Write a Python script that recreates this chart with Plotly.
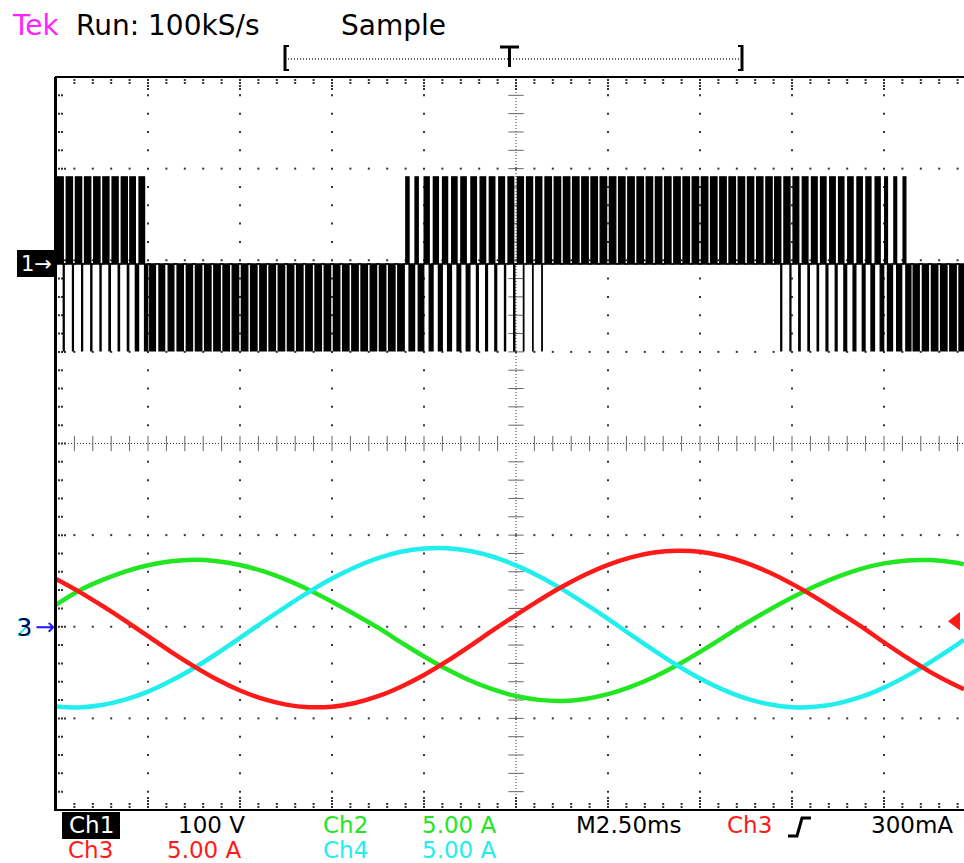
import plotly.graph_objects as go

# ---------------- data (read from the screen) ----------------
# time axis: 2.5 ms/div, screen shows 0 .. ~9.87 div
t_ms = [0.0, 0.625, 1.25, 1.875, 2.5, 3.125, 3.75, 4.375, 5.0, 5.625,
        6.25, 6.875, 7.5, 8.125, 8.75, 9.375, 10.0, 10.625, 11.25, 11.875,
        12.5, 13.125, 13.75, 14.375, 15.0, 15.625, 16.25, 16.875, 17.5, 18.125,
        18.75, 19.375, 20.0, 20.625, 21.25, 21.875, 22.5, 23.125, 23.75, 24.375,
        24.67]

# phase currents (A), 5 A/div
ch3_red_A = [2.61, 1.92, 1.15, 0.34, -0.51, -1.37, -2.16, -2.88, -3.48, -3.94,
             -4.25, -4.39, -4.36, -4.16, -3.79, -3.27, -2.63, -1.88, -1.05, -0.19,
             0.64, 1.44, 2.18, 2.84, 3.38, 3.79, 4.05, 4.15, 4.09, 3.86,
             3.49, 2.97, 2.34, 1.62, 0.83, 0.02, -0.85, -1.69, -2.46, -3.13,
             -3.41]
ch2_green_A = [1.20, 1.97, 2.54, 3.01, 3.36, 3.57, 3.65, 3.58, 3.37, 3.03,
               2.57, 2.01, 1.37, 0.67, -0.05, -0.85, -1.62, -2.32, -2.93, -3.42,
               -3.78, -3.99, -4.05, -3.94, -3.68, -3.27, -2.74, -2.10, -1.37, -0.59,
               0.19, 0.91, 1.59, 2.21, 2.74, 3.16, 3.46, 3.62, 3.64, 3.52,
               3.41]
ch4_cyan_A = [-4.35, -4.40, -4.27, -3.98, -3.54, -2.95, -2.25, -1.46, -0.61, 0.26,
              1.10, 1.90, 2.63, 3.25, 3.74, 4.09, 4.27, 4.29, 4.13, 3.82,
              3.35, 2.76, 2.05, 1.26, 0.43, -0.44, -1.29, -2.10, -2.82, -3.43,
              -3.91, -4.23, -4.39, -4.37, -4.18, -3.83, -3.32, -2.68, -1.94, -1.13,
              -0.71]

# Ch1 line voltage: levels (V), 100 V/div, PWM carrier period (ms)
ch1_levels_V = [95, 0, -95]          # high, zero, low
ch1_carrier_ms = 0.25
ch1_duty_step_ms = 0.625
# fraction of each carrier period spent at +level / -level (per 0.625 ms slot)
ch1_up_duty = [0.68, 0.68, 0.66, 0.6, 0.0, 0.0, 0.0, 0.0, 0.0, 0.0,
               0.0, 0.0, 0.0, 0.0, 0.0, 0.35, 0.55, 0.58, 0.6, 0.62,
               0.66, 0.7, 0.7, 0.7, 0.7, 0.7, 0.7, 0.7, 0.7, 0.7,
               0.68, 0.66, 0.62, 0.6, 0.58, 0.55, 0.3, 0.0, 0.0, 0.0]
ch1_lo_duty = [0.1, 0.12, 0.15, 0.35, 0.62, 0.68, 0.7, 0.7, 0.7, 0.7,
               0.7, 0.7, 0.7, 0.7, 0.7, 0.6, 0.42, 0.4, 0.2, 0.12,
               0.05, 0.0, 0.0, 0.0, 0.0, 0.0, 0.0, 0.0, 0.0, 0.0,
               0.0, 0.1, 0.15, 0.2, 0.3, 0.38, 0.55, 0.66, 0.7, 0.7]

# channel settings
ch1_offset_div = 1.96
ch1_V_per_div = 100.0
cur_offset_div = -2.0
cur_A_per_div = 5.0
trig_level_A = 0.3

# ---------------- geometry ----------------
W, H = 964, 863
ML, MR, MT, MB = 56, 0, 77, 53
PW = W - ML - MR
PH = H - MT - MB
MS_PER_DIV = 2.5
DIV_PX_X = 92.0
X_MAX = PW / DIV_PX_X * MS_PER_DIV
DX = MS_PER_DIV / DIV_PX_X      # ms per pixel
DY = 8.0 / PH                    # div per pixel


def PX(px):
    return (px - ML) / PW


def PY(py):
    return (H - MB - py) / PH


FONT = "DejaVu Sans"
RED = "#ff1a1a"
GREEN = "#22e622"
CYAN = "#22eeee"
MAG = "#ff22ff"

fig = go.Figure()

# ---------------- graticule ----------------
gx, gy = [], []
for j in [-3, -2, -1, 1, 2, 3]:
    for i in range(1, 50):
        gx.append(i * 0.5)
        gy.append(j)
for i in [1, 2, 3, 4, 6, 7, 8, 9]:
    for j in range(-19, 20):
        if j % 5:
            gx.append(i * 2.5)
            gy.append(j * 0.2)
# border ticks
for i in range(1, 50):
    n = 4 if i % 5 == 0 else 2
    for k in range(1, n + 1):
        gx += [i * 0.5, i * 0.5]
        gy += [4 - 3 * k * DY, -4 + 3 * k * DY]
for j in range(-19, 20):
    n = 3 if j % 5 == 0 else 2
    for k in range(1, n + 1):
        gx.append(3 * k * DX)
        gy.append(j * 0.2)
fig.add_trace(go.Scatter(x=gx, y=gy, mode="markers",
                         marker=dict(symbol="square", size=2, color="#333333"),
                         hoverinfo="skip", showlegend=False, cliponaxis=False))

# center-line ticks
tx = [i * 0.5 for i in range(1, 50) if i != 25]
fig.add_trace(go.Scatter(x=tx, y=[0] * len(tx), mode="markers",
                         marker=dict(symbol="line-ns-open", size=11, color="#666666",
                                     line=dict(width=1, color="#666666")),
                         hoverinfo="skip", showlegend=False))
ty = [j * 0.2 for j in range(-19, 20) if j != 0]
fig.add_trace(go.Scatter(x=[12.5] * len(ty), y=ty, mode="markers",
                         marker=dict(symbol="line-ew-open", size=11, color="#666666",
                                     line=dict(width=1, color="#666666")),
                         hoverinfo="skip", showlegend=False))

shapes = []
shapes.append(dict(type="line", xref="x", yref="y", x0=12.5, x1=12.5, y0=-4, y1=4,
                   line=dict(color="#333333", width=1, dash="1px,2px"), layer="below"))
shapes.append(dict(type="line", xref="x", yref="y", x0=0, x1=X_MAX, y0=0, y1=0,
                   line=dict(color="#333333", width=1, dash="1px,2px"), layer="below"))
# borders
shapes.append(dict(type="line", xref="paper", yref="paper", x0=PX(55.5), x1=PX(55.5),
                   y0=PY(77), y1=PY(811), line=dict(color="black", width=3)))
shapes.append(dict(type="line", xref="paper", yref="paper", x0=PX(55), x1=1,
                   y0=PY(77), y1=PY(77), line=dict(color="black", width=2)))
shapes.append(dict(type="line", xref="paper", yref="paper", x0=PX(55), x1=1,
                   y0=PY(810), y1=PY(810), line=dict(color="black", width=2)))

# ---------------- Ch1 PWM voltage ----------------
hi = ch1_offset_div + ch1_levels_V[0] / ch1_V_per_div
mid = ch1_offset_div + ch1_levels_V[1] / ch1_V_per_div
lo = ch1_offset_div + ch1_levels_V[2] / ch1_V_per_div
vx, vy = [], []
k = 0
while k * ch1_carrier_ms < X_MAX:
    x0 = k * ch1_carrier_ms
    idx = min(int(x0 / ch1_duty_step_ms), len(ch1_up_duty) - 1)
    wu, wl = ch1_up_duty[idx], ch1_lo_duty[idx]
    T = ch1_carrier_ms
    s = x0 + (1 - wu - wl) / 2 * T
    vx += [x0, s]
    vy += [mid, mid]
    if wu > 0:
        vx += [s, s + wu * T]
        vy += [hi, hi]
    s2 = s + wu * T
    if wl > 0:
        vx += [s2, s2 + wl * T]
        vy += [lo, lo]
    vx.append(s2 + wl * T)
    vy.append(mid)
    k += 1
fig.add_trace(go.Scatter(x=[0, X_MAX + 1], y=[mid, mid], mode="lines",
                         line=dict(color="black", width=1.5),
                         hoverinfo="skip", showlegend=False))
fig.add_trace(go.Scatter(x=vx, y=vy, mode="lines", fill="tonexty",
                         fillcolor="black", line=dict(color="black", width=1.3),
                         hoverinfo="skip", showlegend=False))

# ---------------- currents ----------------
for vals, col in [(ch2_green_A, GREEN), (ch4_cyan_A, CYAN), (ch3_red_A, RED)]:
    fig.add_trace(go.Scatter(x=t_ms, y=[cur_offset_div + v / cur_A_per_div for v in vals],
                             mode="lines", line=dict(color=col, width=4.5, shape="spline"),
                             hoverinfo="skip", showlegend=False))

# trigger level marker
fig.add_trace(go.Scatter(x=[(956 - ML) * DX], y=[cur_offset_div + trig_level_A / cur_A_per_div],
                         mode="markers", marker=dict(symbol="triangle-left", size=16, color=RED),
                         hoverinfo="skip", showlegend=False, cliponaxis=False))

# ---------------- header: trigger position bar ----------------
hdr = dict(type="line", xref="paper", yref="paper")
shapes.append(dict(hdr, x0=PX(288), x1=PX(740), y0=PY(59), y1=PY(59),
                   line=dict(color="#333333", width=1.5, dash="1px,2px")))
for xb, d in [(285, 1), (742, -1)]:
    shapes.append(dict(hdr, x0=PX(xb), x1=PX(xb), y0=PY(45), y1=PY(71),
                       line=dict(color="black", width=3)))
    shapes.append(dict(hdr, x0=PX(xb), x1=PX(xb + 4 * d), y0=PY(46), y1=PY(46),
                       line=dict(color="black", width=2)))
    shapes.append(dict(hdr, x0=PX(xb), x1=PX(xb + 4 * d), y0=PY(70), y1=PY(70),
                       line=dict(color="black", width=2)))
shapes.append(dict(hdr, x0=PX(500), x1=PX(519), y0=PY(47), y1=PY(47),
                   line=dict(color="black", width=3)))
shapes.append(dict(hdr, x0=PX(509.5), x1=PX(509.5), y0=PY(47), y1=PY(67),
                   line=dict(color="black", width=3)))

# boxes for Ch1 labels
shapes.append(dict(type="rect", xref="paper", yref="paper", x0=PX(17), x1=PX(56),
                   y0=PY(277), y1=PY(250), fillcolor="black", line=dict(width=0)))
shapes.append(dict(type="rect", xref="paper", yref="paper", x0=PX(62), x1=PX(120),
                   y0=PY(839), y1=PY(812), fillcolor="black", line=dict(width=0)))
# rising edge symbol
shapes.append(dict(type="path", xref="paper", yref="paper",
                   path="M {},{} L {},{} L {},{} L {},{}".format(
                       PX(788), PY(836), PX(797), PY(836), PX(802), PY(818), PX(811), PY(818)),
                   line=dict(color="black", width=3)))

annotations = []


def txt(s, px, py, color="black", size=22, anchor="center"):
    annotations.append(dict(text=s, x=PX(px), y=PY(py), xref="paper", yref="paper",
                            xanchor=anchor, yanchor="middle", showarrow=False, borderpad=0,
                            font=dict(family=FONT, size=size, color=color)))


txt("Tek", 11, 26, MAG, 28, "left")
txt("Run: 100kS/s", 75, 26, "black", 28, "left")
txt("Sample", 340, 26, "black", 28, "left")

txt("1→", 36, 264, "white", 21)
txt("2", 23, 628, CYAN, 24)
txt("3", 24, 628, "#000050", 24)
txt("→", 45, 627, "#1a1aff", 24)

txt("Ch1", 91, 825, "white", 23)
txt("100 V", 211, 825, "black", 23)
txt("Ch2", 345, 825, GREEN, 23)
txt("5.00 A", 459, 825, GREEN, 23)
txt("M2.50ms", 628, 825, "black", 23)
txt("Ch3", 749, 825, RED, 23)
txt("300mA", 912, 825, "black", 23)
txt("Ch3", 90, 850, RED, 23)
txt("5.00 A", 204, 850, RED, 23)
txt("Ch4", 345, 850, CYAN, 23)
txt("5.00 A", 459, 850, CYAN, 23)

fig.update_layout(
    width=W, height=H,
    margin=dict(l=ML, r=MR, t=MT, b=MB, pad=0),
    paper_bgcolor="white", plot_bgcolor="white",
    xaxis=dict(range=[0, X_MAX], visible=False, showgrid=False, zeroline=False, fixedrange=True),
    yaxis=dict(range=[-4, 4], visible=False, showgrid=False, zeroline=False, fixedrange=True),
    shapes=shapes, annotations=annotations, showlegend=False,
)

fig.write_html("out.html", config={"displayModeBar": False})
